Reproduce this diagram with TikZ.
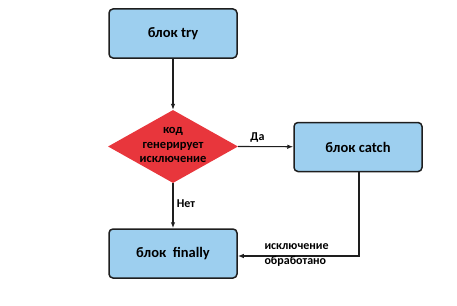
\documentclass[tikz,border=0pt]{standalone}
\usepackage{fontspec}
\setmainfont{Carlito}
\usetikzlibrary{shapes.geometric,arrows.meta}
\definecolor{boxblue}{HTML}{9DCFEF}
\definecolor{diamred}{HTML}{E8363C}
\definecolor{edge}{HTML}{1E1E1E}
\begin{document}
\begin{tikzpicture}[x=1pt,y=-1pt,
  blockbox/.style={draw=edge,line width=1.5pt,rounded corners=4pt,fill=boxblue,
    minimum width=128pt,minimum height=49pt,font=\bfseries\fontsize{14.5}{17}\selectfont},
  decision/.style={diamond,fill=diamred,draw=none,minimum width=130pt,minimum height=73pt,
    aspect=1.78,inner sep=0pt},
  flow/.style={draw=edge,line width=1.1pt,-{Latex[length=6pt,width=4.5pt]}},
  lbl/.style={font=\bfseries\fontsize{12}{15}\selectfont,align=left}]
\useasboundingbox (0,0) rectangle (457,305);
\node[blockbox] (try) at (173,33.5) {блок try};
\node[decision] (dec) at (173,146.5) {};
\node[align=center,font=\bfseries\fontsize{12.5}{14.5}\selectfont] (dectext) at (173,145) {код\\генерирует\\исключение};
\node[blockbox] (catch) at (358,147) {блок catch};
\node[blockbox] (fin) at (173,253.5) {блок\ \ finally};
\coordinate (turn) at (359,256);
\draw[flow] (try) -- (dec.north);
\draw[flow] (dec.east) -- node[lbl,above,pos=0.35] (yes) {Да} (catch);
\draw[flow] (dec.south) -- node[lbl,right,pos=0.45] (no) {Нет} (fin);
\draw[flow] (catch.south -| turn) -- (turn) -- (fin.east |- turn);
\node[lbl,anchor=west] (handled) at (261,255) {исключение\\обработано};
\end{tikzpicture}
\end{document}
